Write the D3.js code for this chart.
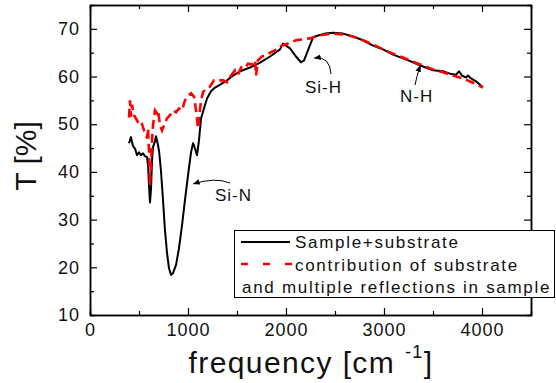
<!DOCTYPE html>
<html>
<head>
<meta charset="utf-8">
<script src="https://cdn.jsdelivr.net/npm/d3@7"></script>
<style>
  body { margin: 0; background: #fff; }
  svg { display: block; font-family: "Liberation Sans", Arial, sans-serif; }
</style>
</head>
<body>
<svg id="chart" width="556" height="383"></svg>
<script>
// Sample+substrate (black solid): frequency [cm-1], T [%]
const sampleFreq = [398, 418, 439, 459, 480, 500, 520, 541, 561, 582, 592, 602, 612, 622, 633, 643, 663, 673, 684, 704,
  724, 745, 765, 786, 806, 827, 847, 878, 908, 939, 969, 1000, 1031, 1051, 1061, 1092, 1112, 1133, 1163, 1194,
  1235, 1276, 1327, 1398, 1459, 1531, 1633, 1735, 1837, 1939, 1969, 2041, 2102, 2153, 2184, 2224, 2276, 2327, 2398, 2480,
  2582, 2684, 2786, 2888, 2990, 3092, 3194, 3296, 3347, 3398, 3500, 3602, 3673, 3735, 3765, 3796, 3837, 3857, 3888, 3939, 4000];
const sampleT = [46.0, 47.3, 45.4, 44.9, 43.5, 44.1, 43.5, 43.9, 43.3, 43.1, 41.4, 37.2, 33.6, 36.2, 42.4, 45.2, 46.4, 47.5, 46.6, 44.5,
  40.3, 34.1, 27.8, 23.0, 19.8, 18.4, 18.8, 20.5, 24.0, 28.8, 34.1, 39.3, 44.1, 46.0, 45.6, 43.5, 46.6, 51.2, 53.3, 55.4,
  56.9, 57.7, 58.3, 59.2, 60.2, 61.1, 61.9, 62.9, 64.2, 65.7, 66.9, 65.9, 64.2, 63.0, 63.4, 65.5, 68.2, 68.6, 69.0, 69.2,
  69.0, 68.4, 67.6, 66.5, 65.7, 64.6, 63.8, 63.0, 62.5, 62.1, 61.3, 61.1, 60.6, 60.4, 61.1, 60.2, 59.8, 60.2, 59.6, 59.0, 57.9];

// contribution of substrate and multiple reflections (red dashed)
const substrateFreq = [398, 408, 418, 429, 449, 469, 490, 510, 531, 551, 571, 582, 592, 602, 612, 622, 633, 643, 663, 684,
  694, 714, 735, 755, 786, 816, 847, 878, 908, 939, 969, 1000, 1031, 1061, 1082, 1102, 1112, 1133, 1153, 1184,
  1224, 1265, 1306, 1357, 1398, 1439, 1480, 1510, 1541, 1582, 1612, 1653, 1684, 1694, 1714, 1755, 1796, 1837, 1888, 1939,
  1990, 2041, 2102, 2173, 2245, 2327, 2398, 2480, 2582, 2684, 2786, 2888, 2990, 3092, 3194, 3296, 3398, 3500, 3602, 3704,
  3806, 3908, 4010];
const substrateT = [51.4, 55.0, 51.6, 54.1, 51.9, 51.2, 50.4, 49.6, 50.0, 48.7, 48.1, 47.0, 49.1, 44.5, 37.2, 41.4, 46.6, 49.8, 52.9, 52.3,
  52.9, 49.8, 48.7, 49.8, 51.2, 51.9, 52.9, 52.5, 53.3, 52.9, 55.0, 56.0, 56.5, 55.8, 52.9, 49.1, 51.2, 55.0, 56.7, 57.5,
  57.9, 59.2, 59.2, 59.2, 58.8, 60.2, 61.3, 60.4, 61.9, 61.7, 62.7, 62.5, 63.4, 60.2, 63.4, 64.2, 64.4, 65.0, 65.5, 66.3,
  66.7, 67.1, 67.6, 67.8, 68.0, 68.6, 68.8, 69.0, 68.8, 68.4, 67.6, 66.7, 65.7, 64.8, 64.0, 63.1, 62.3, 61.5, 60.9, 60.2,
  59.6, 58.7, 57.7];

const xTicks = [0, 1000, 2000, 3000, 4000];
const yTicks = [10, 20, 30, 40, 50, 60, 70];
const legendLabels = ["Sample+substrate", "contribution of substrate", "and multiple reflections in sample"];

// peak labels and where their arrows point (freq, T)
const peakLabels = ["Si-N", "Si-H", "N-H"];
const peakTipFreq = [1055, 2290, 3370];
const peakTipT = [37.5, 63.9, 62.3];

const svg = d3.select("#chart");
const plotL = 90, plotR = 531, plotT = 5, plotB = 315;

const x = d3.scaleLinear().domain([0, 4500]).range([plotL, plotR]);
const y = d3.scaleLinear().domain([10, 75]).range([plotB, plotT]);

const sample = sampleFreq.map((f, i) => [f, sampleT[i]]);
const substrate = substrateFreq.map((f, i) => [f, substrateT[i]]);

const line = d3.line().x(d => x(d[0])).y(d => y(d[1]));

// axes, ticks pointing inward
function styleAxis(g) {
  g.selectAll(".domain").attr("stroke", "#000").attr("stroke-width", 1.5);
  g.selectAll(".tick line").attr("stroke", "#000").attr("stroke-width", 1.2);
  g.selectAll("text").attr("fill", "#111").style("font-size", "18px").style("letter-spacing", "1px");
}

const minorX = d3.range(500, 4500, 1000);
const minorY = d3.range(15, 75, 10);

svg.append("g").attr("transform", `translate(0,${plotB})`)
  .call(d3.axisBottom(x).tickValues(xTicks).tickSizeInner(-7).tickSizeOuter(0).tickPadding(8).tickFormat(d3.format("d")))
  .call(styleAxis);
svg.append("g").attr("transform", `translate(0,${plotB})`)
  .call(d3.axisBottom(x).tickValues(minorX).tickSize(-4).tickFormat(""))
  .call(styleAxis);
svg.append("g").attr("transform", `translate(0,${plotT})`)
  .call(d3.axisTop(x).tickValues(xTicks).tickSizeInner(-7).tickSizeOuter(0).tickFormat(""))
  .call(styleAxis);
svg.append("g").attr("transform", `translate(0,${plotT})`)
  .call(d3.axisTop(x).tickValues(minorX).tickSize(-4).tickFormat(""))
  .call(styleAxis);

svg.append("g").attr("transform", `translate(${plotL},0)`)
  .call(d3.axisLeft(y).tickValues(yTicks).tickSizeInner(-7).tickSizeOuter(0).tickPadding(10))
  .call(styleAxis);
svg.append("g").attr("transform", `translate(${plotL},0)`)
  .call(d3.axisLeft(y).tickValues(minorY).tickSize(-4).tickFormat(""))
  .call(styleAxis);
svg.append("g").attr("transform", `translate(${plotR},0)`)
  .call(d3.axisRight(y).tickValues(yTicks).tickSizeInner(-7).tickSizeOuter(0).tickFormat(""))
  .call(styleAxis);
svg.append("g").attr("transform", `translate(${plotR},0)`)
  .call(d3.axisRight(y).tickValues(minorY).tickSize(-4).tickFormat(""))
  .call(styleAxis);

// curves
svg.append("path").datum(sample)
  .attr("d", line).attr("fill", "none").attr("stroke", "#000").attr("stroke-width", 2)
  .attr("stroke-linejoin", "round");
svg.append("path").datum(substrate)
  .attr("d", line).attr("fill", "none").attr("stroke", "#f00").attr("stroke-width", 2.6)
  .attr("stroke-dasharray", "9,5");

// peak annotations with curved arrows
svg.append("defs").append("marker")
  .attr("id", "arrow").attr("viewBox", "0 0 10 10").attr("refX", 9).attr("refY", 5)
  .attr("markerWidth", 7).attr("markerHeight", 7).attr("orient", "auto")
  .append("path").attr("d", "M0,1 L10,5 L0,9 Z").attr("fill", "#000");

const labelPos = [[215, 201], [305, 93], [400, 102]];
const arrowStart = [[230, 183], [331, 74], [415, 85]];
const arrowBend = [[215, 177], [330, 56], [417, 75]];

peakLabels.forEach((t, i) => {
  const tx = x(peakTipFreq[i]), ty = y(peakTipT[i]);
  svg.append("path")
    .attr("d", `M${arrowStart[i][0]},${arrowStart[i][1]} Q${arrowBend[i][0]},${arrowBend[i][1]} ${tx},${ty}`)
    .attr("fill", "none").attr("stroke", "#000").attr("stroke-width", 1)
    .attr("marker-end", "url(#arrow)");
  svg.append("text").attr("x", labelPos[i][0]).attr("y", labelPos[i][1])
    .style("font-size", "17px").style("letter-spacing", "1px").attr("fill", "#111").text(t);
});

// axis titles
svg.append("text")
  .attr("transform", "translate(36,156) rotate(-90)")
  .attr("text-anchor", "middle").style("font-size", "30px").attr("fill", "#111")
  .text("T [%]");

const xt = svg.append("text").attr("x", 311).attr("y", 373)
  .attr("text-anchor", "middle").style("font-size", "30px").style("letter-spacing", "1.4px").attr("fill", "#111");
xt.append("tspan").text("frequency [cm ");
xt.append("tspan").attr("dy", -15).style("font-size", "18px").text("-1");
xt.append("tspan").attr("dy", 15).text("]");

// legend
const lg = svg.append("g");
lg.append("rect").attr("x", 234.5).attr("y", 230.5).attr("width", 320).attr("height", 67)
  .attr("fill", "#fff").attr("stroke", "#000").attr("stroke-width", 1);
lg.append("line").attr("x1", 241).attr("x2", 290).attr("y1", 242).attr("y2", 242)
  .attr("stroke", "#000").attr("stroke-width", 1.8);
lg.append("line").attr("x1", 241).attr("x2", 292).attr("y1", 264).attr("y2", 264)
  .attr("stroke", "#f00").attr("stroke-width", 2.4).attr("stroke-dasharray", "7,15");
const legendX = [295, 295, 242];
const legendY = [248, 271, 293];
legendLabels.forEach((t, i) => {
  lg.append("text").attr("x", legendX[i]).attr("y", legendY[i])
    .style("font-size", "17px").style("letter-spacing", "1.7px").attr("fill", "#111").text(t);
});
</script>
</body>
</html>
